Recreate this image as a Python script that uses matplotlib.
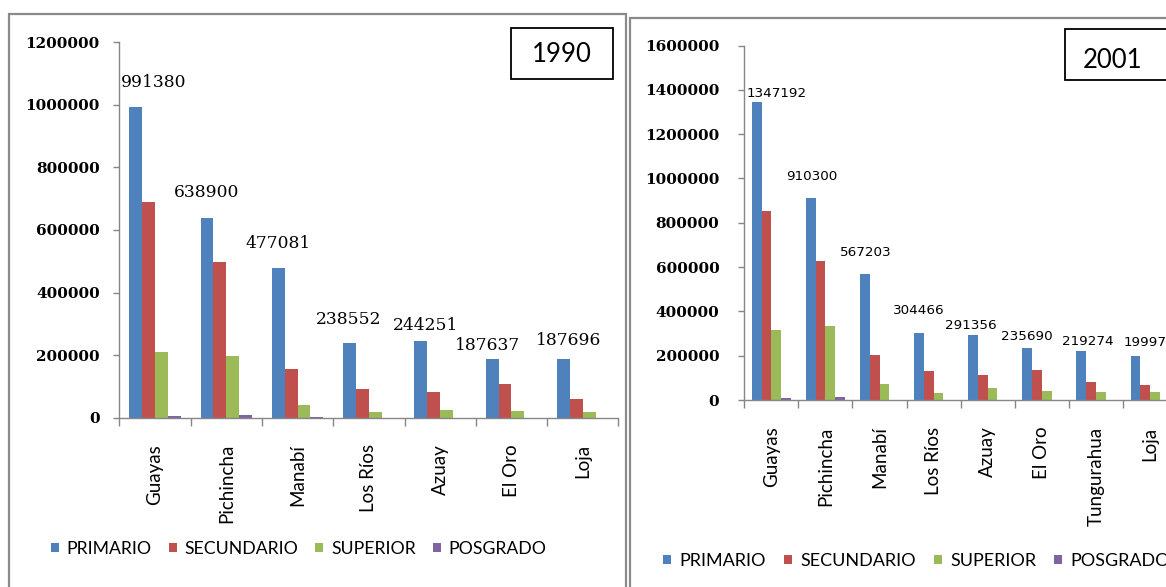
import numpy as np
import matplotlib
matplotlib.use("Agg")
import matplotlib.pyplot as plt
from matplotlib.patches import Rectangle, Patch

# ---------------- data ----------------
series_names = ["PRIMARIO", "SECUNDARIO", "SUPERIOR", "POSGRADO"]

prov_1990 = ["Guayas", "Pichincha", "Manabí", "Los Ríos", "Azuay", "El Oro", "Loja"]
primario_1990 = [991380, 638900, 477081, 238552, 244251, 187637, 187696]
secundario_1990 = [689000, 496500, 156500, 90700, 82000, 106700, 58800]
superior_1990 = [209000, 197000, 41500, 17000, 24500, 21000, 17000]
posgrado_1990 = [5000, 8500, 1000, 500, 500, 500, 500]
labels_1990 = ["991380", "638900", "477081", "238552", "244251", "187637", "187696"]

prov_2001 = ["Guayas", "Pichincha", "Manabí", "Los Ríos", "Azuay", "El Oro", "Tungurahua", "Loja"]
primario_2001 = [1347192, 910300, 567203, 304466, 291356, 235690, 219274, 199976]
secundario_2001 = [853000, 627500, 204600, 129500, 113000, 135500, 82600, 66400]
superior_2001 = [316000, 332600, 72000, 30000, 54000, 42000, 36000, 36000]
posgrado_2001 = [7500, 13500, 1000, 500, 500, 500, 500, 500]
labels_2001 = ["1347192", "910300", "567203", "304466", "291356", "235690", "219274", "199976"]

yticks_1990 = [0, 200000, 400000, 600000, 800000, 1000000, 1200000]
yticks_2001 = [0, 200000, 400000, 600000, 800000, 1000000, 1200000, 1400000, 1600000]

# ---------------- style ----------------
colors = ["#4F81BD", "#C0504D", "#9BBB59", "#8064A2"]
W, H = 1166, 587
DPI = 100
gray = "#868686"

# label placement (pixels, style only)
lab_dx_1990 = [-1.5, -20, -19, -20, -15, -24, -14]
lab_dy_1990 = [25, 25, 25, 24, 16, 13, 18]
lab_dx_2001 = [5, -14, -14, -15, -17, -15, -8, -1]
lab_dy_2001 = [8, 22, 22, 22, 10, 11, 10, 13]

fig = plt.figure(figsize=(W / DPI, H / DPI), dpi=DPI)
fig.patch.set_facecolor("white")


def fx(px):
    return px / W


def fy(py):
    return 1 - py / H


def make_chart(rect, cats, series, yticks, labels, dxs, dys, tick_pad, lab_font, lab_size):
    ax = fig.add_axes(rect)
    n = len(cats)
    x = np.arange(n)
    bw = 0.18
    offs = [-1.5 * bw, -0.5 * bw, 0.5 * bw, 1.5 * bw]
    for vals, c, o, name in zip(series, colors, offs, series_names):
        ax.bar(x + o, vals, width=bw, color=c, label=name, linewidth=0)
    ax.set_xlim(-0.5, n - 0.5)
    ax.set_ylim(yticks[0], yticks[-1])
    ax.set_yticks(yticks)
    ax.set_yticklabels([str(v) for v in yticks], fontfamily="DejaVu Serif",
                       fontweight="bold", fontsize=11, color="black")
    ax.set_xticks(np.arange(n + 1) - 0.5)
    ax.set_xticklabels([])
    ax.set_xticks(x, minor=True)
    ax.set_xticklabels(cats, minor=True, rotation=90, fontfamily="Lato",
                       fontsize=13.5, color="black")
    ax.tick_params(axis="x", which="major", length=6, width=1, color=gray, direction="out")
    ax.tick_params(axis="x", which="minor", length=0, pad=19)
    ax.tick_params(axis="y", length=4, width=1, color=gray, direction="out", pad=tick_pad)
    for s in ["top", "right"]:
        ax.spines[s].set_visible(False)
    for s in ["left", "bottom"]:
        ax.spines[s].set_color(gray)
        ax.spines[s].set_linewidth(1)
    ax.set_facecolor("none")
    prim = series[0]
    for i, (v, t) in enumerate(zip(prim, labels)):
        ax.annotate(t, xy=(i, v), xytext=(dxs[i], dys[i]), textcoords="offset pixels",
                    ha="center", va="center", fontfamily=lab_font, fontsize=lab_size,
                    color="black", annotation_clip=False)
    return ax


# left chart: axis x 119.3 -> 618.4, y 417.7 (0) -> 42.1 (1.2M)
ax1 = make_chart([fx(119.3), fy(417.7), fx(618.4) - fx(119.3), fy(42.1) - fy(417.7)],
                 prov_1990,
                 [primario_1990, secundario_1990, superior_1990, posgrado_1990],
                 yticks_1990, labels_1990, lab_dx_1990, lab_dy_1990,
                 tick_pad=10, lab_font="DejaVu Serif", lab_size=12.3)

# right chart: axis x 744.3 -> 1177, y 400 (0) -> 45.6 (1.6M)
ax2 = make_chart([fx(744.3), fy(400), fx(1177.1) - fx(744.3), fy(45.6) - fy(400)],
                 prov_2001,
                 [primario_2001, secundario_2001, superior_2001, posgrado_2001],
                 yticks_2001, labels_2001, lab_dx_2001, lab_dy_2001,
                 tick_pad=14, lab_font="DejaVu Sans", lab_size=9.7)

# panel borders
fig.patches.append(Rectangle((fx(8.5), fy(620)), fx(626.5) - fx(8.5), fy(14) - fy(620),
                             transform=fig.transFigure, fill=False, edgecolor="#8a8a8a",
                             linewidth=1.6, zorder=0))
fig.patches.append(Rectangle((fx(630), fy(620)), fx(1300) - fx(630), fy(17.5) - fy(620),
                             transform=fig.transFigure, fill=False, edgecolor="#8a8a8a",
                             linewidth=1.6, zorder=0))

# year boxes
for (x0, x1, y0, y1, txt, tx, ty) in [(510.5, 613, 28.5, 79, "1990", 562, 55),
                                      (1065, 1250, 29.5, 80, "2001", 1113, 61)]:
    fig.patches.append(Rectangle((fx(x0), fy(y1)), fx(x1) - fx(x0), fy(y0) - fy(y1),
                                 transform=fig.transFigure, fill=True, facecolor="white",
                                 edgecolor="black", linewidth=1.3, zorder=3))
    fig.text(fx(tx), fy(ty), txt, ha="center", va="center", fontfamily="Lato",
             fontsize=18.5, color="black", zorder=4)

# legends
handles = [Patch(facecolor=c, edgecolor="none") for c in colors]
for x0, yc, fs, cs in [(51, 549, 12.7, 0.95), (663, 561, 13, 1.0)]:
    fig.legend(handles, series_names, loc="center left",
               bbox_to_anchor=(fx(x0), fy(yc)), ncol=4, frameon=False,
               prop={"family": "Lato", "size": fs}, handlelength=0.45,
               handleheight=0.45, handletextpad=0.45, columnspacing=cs,
               borderpad=0, borderaxespad=0)

fig.savefig("out.png", dpi=DPI)
